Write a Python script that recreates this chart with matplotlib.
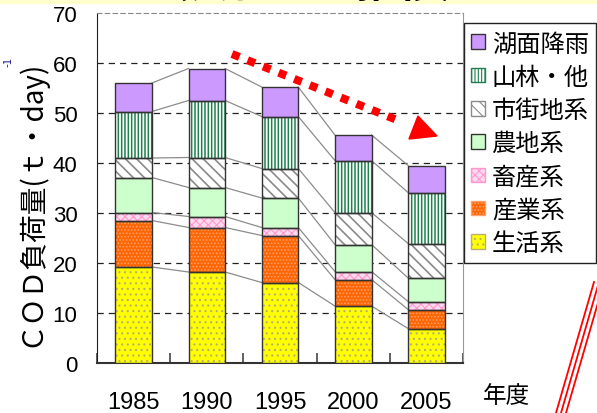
import numpy as np
import matplotlib.pyplot as plt
from matplotlib.patches import Patch, Polygon, Rectangle
from matplotlib.lines import Line2D

plt.rcParams['font.family'] = ['Noto Sans CJK JP', 'DejaVu Sans']
plt.rcParams['hatch.linewidth'] = 0.8

# COD load by source (t/day), stacked bottom to top
years = ['1985', '1990', '1995', '2000', '2005']
seikatsu = [19.2, 18.2, 16.1, 11.4, 6.9]    # 生活系
sangyo = [9.3, 8.9, 9.4, 5.3, 3.8]          # 産業系
chikusan = [1.6, 2.2, 1.6, 1.6, 1.6]        # 畜産系
nochi = [7.0, 5.8, 5.9, 5.4, 4.7]           # 農地系
shigaichi = [3.9, 6.0, 5.9, 6.4, 6.9]       # 市街地系
sanrin = [9.3, 11.4, 10.4, 10.4, 10.2]      # 山林・他
komen = [5.7, 6.4, 5.9, 5.1, 5.4]           # 湖面降雨

labels = ['生活系', '産業系', '畜産系', '農地系', '市街地系', '山林・他', '湖面降雨']
series = [seikatsu, sangyo, chikusan, nochi, shigaichi, sanrin, komen]
# (face, hatch, hatch colour, hatch width)
styles = [
    ('#ffff00', '...', '#b8b070', 0.8),
    ('#ff6600', '.....', '#ffa070', 0.8),
    ('#ffd9f0', 'xxxx', '#ff99cc', 0.8),
    ('#ccffcc', None, None, 0.8),
    ('white', '\\\\\\', '#8a8a8a', 1.2),
    ('white', '|||||', '#1f7f4f', 1.1),
    ('#cc99ff', None, None, 0.8),
]

fig = plt.figure(figsize=(5.97, 4.14), dpi=100)
ax = fig.add_axes([97 / 597, 50 / 414, 366 / 597, 350 / 414])

x = np.arange(len(years))
w = 0.5
bottom = np.zeros(len(years))
tops = []
for vals, (face, hatch, hcol, hlw) in zip(series, styles):
    vals = np.array(vals)
    with plt.rc_context({'hatch.linewidth': hlw}):
        if hatch:
            ax.bar(x, vals, w, bottom=bottom, color=face, hatch=hatch,
                   edgecolor=hcol, linewidth=0, zorder=3)
        else:
            ax.bar(x, vals, w, bottom=bottom, color=face, linewidth=0, zorder=3)
    ax.bar(x, vals, w, bottom=bottom, fill=False, edgecolor='#333333',
           linewidth=1.0, zorder=4)
    bottom = bottom + vals
    tops.append(bottom.copy())

# series lines joining the segment tops of neighbouring bars
for t in tops:
    for i in range(len(years) - 1):
        ax.plot([x[i] + w / 2, x[i + 1] - w / 2], [t[i], t[i + 1]],
                color='#8c8c8c', lw=0.9, zorder=2)

ax.set_xlim(-0.5, 4.5)
ax.set_ylim(0, 70)
ax.set_yticks(range(0, 71, 10))
for yv in range(10, 70, 10):
    ax.axhline(yv, color='#222222', lw=0.9, ls=(0, (5, 4)), zorder=1)

ax.spines['top'].set_linestyle((0, (4, 3)))
ax.spines['top'].set_color('#888888')
ax.spines['right'].set_color('#999999')
ax.spines['left'].set_color('#222222')
ax.spines['bottom'].set_color('#333333')
ax.spines['bottom'].set_linewidth(1.5)

ax.set_xticks(x)
ax.set_xticklabels(years)
ax.set_xticks(np.arange(-0.5, 4.6, 1), minor=True)
ax.tick_params(axis='x', which='major', length=0, pad=20, labelsize=17)
ax.tick_params(axis='x', which='minor', direction='in', length=7, width=1.2,
               color='#444444')
ax.tick_params(axis='y', length=0, pad=14, labelsize=16)
for lab in ax.get_xticklabels() + ax.get_yticklabels():
    lab.set_family(['Liberation Sans Narrow', 'Liberation Sans'])

fig.text(30 / 597, 1 - 203 / 414, 'ＣＯＤ負荷量(ｔ・day)', rotation=90,
         ha='center', va='center', fontsize=20)
fig.text(8 / 597, 1 - 62 / 414, '-1', rotation=90, ha='center', va='center',
         fontsize=8, color='#1a1a80')
fig.text(507 / 597, 1 - 397 / 414, '年度', ha='center', va='center', fontsize=17)

# legend, top entry first
handles = []
for lab, (face, hatch, hcol, hlw) in zip(labels, styles):
    handles.append(Patch(facecolor=face, hatch=hatch,
                         edgecolor=hcol if hcol else '#333333', lw=1, label=lab))
leg = fig.legend(handles[::-1], labels[::-1], loc='upper left',
                 bbox_to_anchor=(464 / 597, 1 - 24 / 414), borderaxespad=0,
                 fontsize=17.5, handlelength=0.55, handleheight=0.55,
                 handletextpad=0.3, labelspacing=0.3, borderpad=0.3,
                 fancybox=False, edgecolor='#222222', framealpha=1)
leg.get_frame().set_linewidth(1.0)

# red dotted arrow showing the downward trend
ax.plot([1.344, 3.667], [61.8, 48.2], color='red', lw=5.8,
        ls=(0, (1, 1.08)), solid_capstyle='butt', zorder=6, clip_on=False)
ax.add_patch(Polygon([[3.885, 49.4], [3.762, 44.8], [4.145, 45.4]],
                     closed=True, color='red', zorder=6))

# heading strip along the top edge, mostly outside the canvas
fig.patches.append(Rectangle((0, 1 - 4 / 414), 1, 4 / 414,
                             transform=fig.transFigure, color='#ffffcc',
                             zorder=0))
fig.text(0.04, 1 + 2 / 414, 'ＣＯＤ（負荷量の推移）', ha='left', va='baseline',
         fontsize=30, fontweight='bold')

# red decorative strokes at the bottom right
for off in (0, 5, 10):
    fig.add_artist(Line2D([(556 + off) / 597, (594 + off) / 597],
                          [0, 131 / 414], color='red', lw=1.3,
                          transform=fig.transFigure))

fig.savefig('out.png', dpi=100)
